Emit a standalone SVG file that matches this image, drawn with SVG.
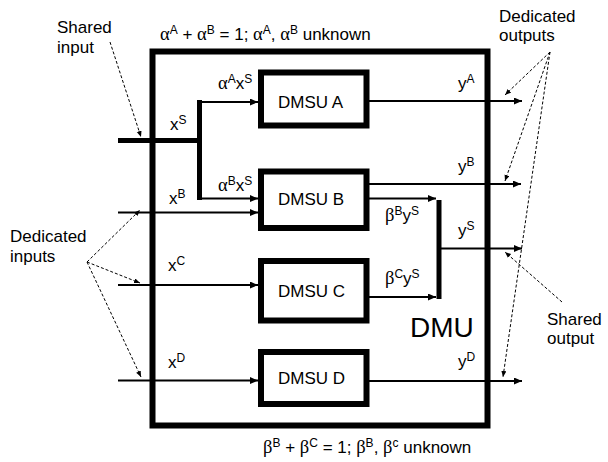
<svg xmlns="http://www.w3.org/2000/svg" width="608" height="462" viewBox="0 0 608 462">
<defs>
<style>
.t{font-family:"Liberation Sans",Arial,sans-serif;font-size:17px;fill:#000}
.g{font-family:"Liberation Serif","Times New Roman",serif;font-size:18.5px}
.s{font-size:12px}
.box{fill:#fff;stroke:#000;stroke-width:6}
.ln{stroke:#000;stroke-width:2;fill:none}
.thick{stroke:#000;stroke-width:5;fill:none}
.dash{stroke:#000;stroke-width:1;stroke-dasharray:3,2;fill:none}
</style>
<marker id="ah" markerUnits="userSpaceOnUse" markerWidth="9" markerHeight="8" refX="8" refY="3.5" orient="auto">
<path d="M0,0 L8,3.5 L0,7 z" fill="#000"/>
</marker>
<marker id="dh" markerUnits="userSpaceOnUse" markerWidth="7" markerHeight="6" refX="6" refY="2.5" orient="auto">
<path d="M0,0 L6,2.5 L0,5 z" fill="#000"/>
</marker>
</defs>
<rect width="608" height="462" fill="#fff"/>

<g id="dmu">
<rect x="152.5" y="51.5" width="335" height="374" fill="none" stroke="#000" stroke-width="6"/>
<text class="t" x="410" y="337" style="font-size:28px">DMU</text>
</g>

<g id="connectors">
<path class="thick" d="M118,140.5 H199.5 M199.5,100 V200"/>
<path class="ln" d="M199.5,102 H258" marker-end="url(#ah)"/>
<path class="ln" d="M199.5,198.5 H258" marker-end="url(#ah)"/>
<path class="ln" d="M118,212.5 H258" marker-end="url(#ah)"/>
<path class="ln" d="M118,285 H258" marker-end="url(#ah)"/>
<path class="ln" d="M118,380.5 H258" marker-end="url(#ah)"/>
<path class="ln" d="M369,101 H522" marker-end="url(#ah)"/>
<path class="ln" d="M369,184 H521" marker-end="url(#ah)"/>
<path class="ln" d="M369,198.5 H436" marker-end="url(#ah)"/>
<path class="ln" d="M369,297 H436" marker-end="url(#ah)"/>
<path class="thick" d="M439,200 V299"/>
<path class="ln" d="M441,248.5 H522" marker-end="url(#ah)"/>
<path class="ln" d="M369,381 H522" marker-end="url(#ah)"/>
<path class="dash" d="M110,42 L141,137" marker-end="url(#dh)"/>
<path class="dash" d="M87,262 L140,210" marker-end="url(#dh)"/>
<path class="dash" d="M87,262 L140,283" marker-end="url(#dh)"/>
<path class="dash" d="M87,262 L141,377" marker-end="url(#dh)"/>
<path class="dash" d="M550,52 L505,95" marker-end="url(#dh)"/>
<path class="dash" d="M550,52 L505,181" marker-end="url(#dh)"/>
<path class="dash" d="M550,52 L503,377" marker-end="url(#dh)"/>
<path class="dash" d="M562,302 L505,252" marker-end="url(#dh)"/>
</g>

<g id="dmsuA"><rect class="box" x="261" y="72.5" width="105.5" height="53"/><text class="t" x="278" y="107.5">DMSU A</text></g>
<g id="dmsuB"><rect class="box" x="261" y="171.5" width="105.5" height="56.5"/><text class="t" x="278" y="205">DMSU B</text></g>
<g id="dmsuC"><rect class="box" x="261" y="261" width="105.5" height="59.5"/><text class="t" x="278" y="297">DMSU C</text></g>
<g id="dmsuD"><rect class="box" x="261" y="352" width="105.5" height="52"/><text class="t" x="278" y="383.5">DMSU D</text></g>

<g id="labels">
<text class="t" x="160" y="40"><tspan class="g">α</tspan><tspan class="s" dy="-6">A</tspan><tspan dy="6"> + </tspan><tspan class="g">α</tspan><tspan class="s" dy="-6">B</tspan><tspan dy="6"> = 1; </tspan><tspan class="g">α</tspan><tspan class="s" dy="-6">A</tspan><tspan dy="6">, </tspan><tspan class="g">α</tspan><tspan class="s" dy="-6">B</tspan><tspan dy="6"> unknown</tspan></text>
<text class="t" x="263" y="453"><tspan class="g">β</tspan><tspan class="s" dy="-6">B</tspan><tspan dy="6"> + </tspan><tspan class="g">β</tspan><tspan class="s" dy="-6">C</tspan><tspan dy="6"> = 1; </tspan><tspan class="g">β</tspan><tspan class="s" dy="-6">B</tspan><tspan dy="6">, </tspan><tspan class="g">β</tspan><tspan class="s" dy="-6">c</tspan><tspan dy="6"> unknown</tspan></text>
<text class="t" x="57" y="33">Shared</text>
<text class="t" x="57" y="53">input</text>
<text class="t" x="10" y="242">Dedicated</text>
<text class="t" x="10" y="262">inputs</text>
<text class="t" x="499" y="21.5">Dedicated</text>
<text class="t" x="499" y="40.5">outputs</text>
<text class="t" x="547" y="325">Shared</text>
<text class="t" x="547" y="344">output</text>
<text class="t" x="170" y="130">x<tspan class="s" dy="-6">S</tspan></text>
<text class="t" x="218" y="89"><tspan class="g">α</tspan><tspan class="s" dy="-6">A</tspan><tspan dy="6">x</tspan><tspan class="s" dy="-6">S</tspan></text>
<text class="t" x="218" y="190.5"><tspan class="g">α</tspan><tspan class="s" dy="-6">B</tspan><tspan dy="6">x</tspan><tspan class="s" dy="-6">S</tspan></text>
<text class="t" x="169" y="204">x<tspan class="s" dy="-6">B</tspan></text>
<text class="t" x="168" y="271">x<tspan class="s" dy="-6">C</tspan></text>
<text class="t" x="168" y="367.5">x<tspan class="s" dy="-6">D</tspan></text>
<text class="t" x="458" y="89">y<tspan class="s" dy="-6">A</tspan></text>
<text class="t" x="458" y="172">y<tspan class="s" dy="-6">B</tspan></text>
<text class="t" x="458" y="235.5">y<tspan class="s" dy="-6">S</tspan></text>
<text class="t" x="458" y="367">y<tspan class="s" dy="-6">D</tspan></text>
<text class="t" x="385" y="220.5"><tspan class="g">β</tspan><tspan class="s" dy="-6">B</tspan><tspan dy="6">y</tspan><tspan class="s" dy="-6">S</tspan></text>
<text class="t" x="385" y="284"><tspan class="g">β</tspan><tspan class="s" dy="-6">C</tspan><tspan dy="6">y</tspan><tspan class="s" dy="-6">S</tspan></text>
</g>
</svg>
